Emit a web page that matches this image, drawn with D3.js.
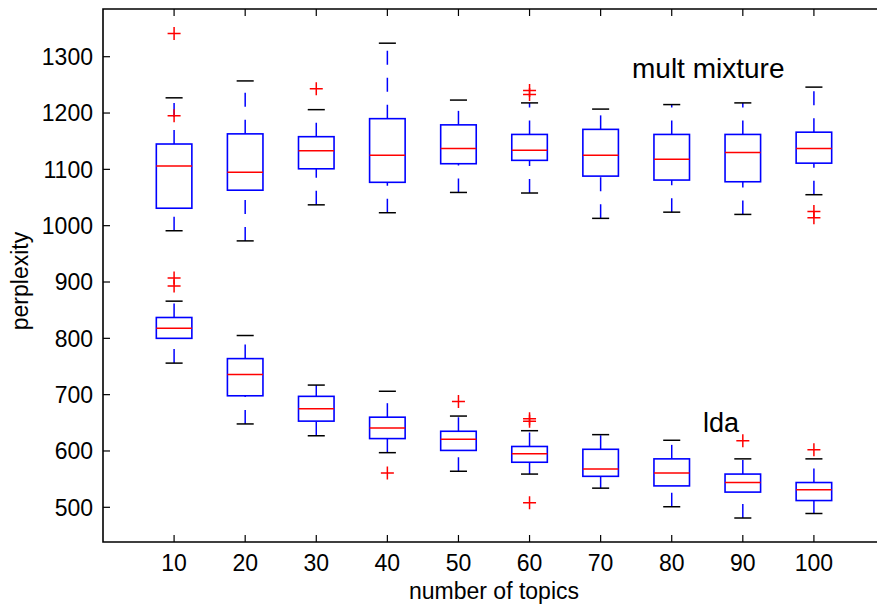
<!DOCTYPE html>
<html lang="en">
<head>
    <meta charset="UTF-8">
    <title>perplexity vs number of topics</title>
    <script src="https://d3js.org/d3.v7.min.js"></script>
    <style>
        body {
            margin: 0;
            background: #fff;
        }
        svg {
            display: block;
            font-family: 'Liberation Sans', Arial, Helvetica, sans-serif;
        }
        .axis-line {
            stroke: #000;
            stroke-width: 1.6px;
            fill: none;
        }
        .tick-mark {
            stroke: #000;
            stroke-width: 1.2px;
        }
        .tick-label {
            font-size: 23px;
            fill: #000;
        }
        .whisker {
            stroke: #0000ff;
            stroke-width: 1.5px;
            stroke-dasharray: 14, 13;
        }
        .cap {
            stroke: #000;
            stroke-width: 1.5px;
        }
        .box {
            fill: none;
            stroke: #0000ff;
            stroke-width: 1.6px;
        }
        .median {
            stroke: #ff0000;
            stroke-width: 1.5px;
        }
        .outlier {
            stroke: #ff0000;
            stroke-width: 1.5px;
        }
    </style>
</head>
<body>
    <svg width="877" height="607"></svg>

    <script>
        // x categories
        const topics = [10, 20, 30, 40, 50, 60, 70, 80, 90, 100];
        const yTicks = [500, 600, 700, 800, 900, 1000, 1100, 1200, 1300];

        // mult mixture boxes
        const multLow    = [991, 973, 1037, 1023, 1059, 1058, 1013, 1024, 1020, 1055];
        const multQ1     = [1031, 1063, 1101, 1077, 1110, 1116, 1088, 1081, 1078, 1111];
        const multMedian = [1106, 1095, 1133, 1125, 1137, 1134, 1125, 1118, 1130, 1137];
        const multQ3     = [1145, 1163, 1158, 1190, 1179, 1162, 1171, 1162, 1162, 1166];
        const multHigh   = [1227, 1257, 1206, 1324, 1223, 1218, 1207, 1215, 1218, 1246];
        const multOut    = [[1341, 1195], [], [1243], [], [], [1240, 1233], [], [], [], [1025, 1014]];

        // lda boxes
        const ldaLow    = [756, 648, 627, 597, 564, 559, 534, 501, 481, 489];
        const ldaQ1     = [800, 698, 653, 622, 601, 580, 555, 538, 527, 512];
        const ldaMedian = [818, 736, 675, 641, 621, 595, 568, 561, 544, 531];
        const ldaQ3     = [837, 764, 697, 660, 635, 608, 603, 586, 559, 544];
        const ldaHigh   = [866, 805, 717, 706, 662, 636, 629, 619, 586, 586];
        const ldaOut    = [[907, 893], [], [], [561], [688], [657, 653, 508], [], [], [618], [602]];

        const svg = d3.select("svg");

        // plot area (right edge of the axes sits just past the window)
        const plotLeft = 103, plotRight = 885, plotTop = 9, plotBottom = 542;

        const x = d3.scaleLinear().domain([0, 11]).range([plotLeft, plotRight]);
        const y = d3.scaleLinear().domain([438.4, 1384.7]).range([plotBottom, plotTop]);

        const boxHalf = 0.25, capHalf = 0.12;

        function drawSeries(low, q1, med, q3, high, outs) {
            const rows = topics.map((t, i) => ({
                pos: i + 1, low: low[i], q1: q1[i], med: med[i],
                q3: q3[i], high: high[i], outs: outs[i]
            }));
            const g = svg.append("g");

            // whiskers: lower one starts its dash at the cap, upper one at the box
            g.selectAll(".wlow").data(rows).enter().append("line")
                .attr("class", "whisker")
                .attr("x1", d => x(d.pos)).attr("x2", d => x(d.pos))
                .attr("y1", d => y(d.low)).attr("y2", d => y(d.q1));
            g.selectAll(".whigh").data(rows).enter().append("line")
                .attr("class", "whisker")
                .attr("x1", d => x(d.pos)).attr("x2", d => x(d.pos))
                .attr("y1", d => y(d.q3)).attr("y2", d => y(d.high));

            // caps
            ["low", "high"].forEach(k => {
                g.selectAll(".cap-" + k).data(rows).enter().append("line")
                    .attr("class", "cap")
                    .attr("x1", d => x(d.pos - capHalf)).attr("x2", d => x(d.pos + capHalf))
                    .attr("y1", d => y(d[k])).attr("y2", d => y(d[k]));
            });

            // boxes
            g.selectAll(".box").data(rows).enter().append("rect")
                .attr("class", "box")
                .attr("x", d => x(d.pos - boxHalf))
                .attr("width", d => x(d.pos + boxHalf) - x(d.pos - boxHalf))
                .attr("y", d => y(d.q3))
                .attr("height", d => y(d.q1) - y(d.q3));

            // medians
            g.selectAll(".median").data(rows).enter().append("line")
                .attr("class", "median")
                .attr("x1", d => x(d.pos - boxHalf)).attr("x2", d => x(d.pos + boxHalf))
                .attr("y1", d => y(d.med)).attr("y2", d => y(d.med));

            // outliers as red plus signs
            const pts = rows.flatMap(d => d.outs.map(v => ({ pos: d.pos, v: v })));
            g.selectAll(".outlier").data(pts).enter().append("path")
                .attr("class", "outlier")
                .attr("d", d => {
                    const cx = x(d.pos), cy = y(d.v), s = 6.5;
                    return `M${cx - s},${cy}H${cx + s}M${cx},${cy - s}V${cy + s}`;
                });
        }

        drawSeries(multLow, multQ1, multMedian, multQ3, multHigh, multOut);
        drawSeries(ldaLow, ldaQ1, ldaMedian, ldaQ3, ldaHigh, ldaOut);

        // axes frame (matlab style, ticks inward)
        const axes = svg.append("g");
        axes.append("path").attr("class", "axis-line")
            .attr("d", `M${plotRight},${plotTop}H${plotLeft}V${plotBottom}H${plotRight}`);

        const tickLen = 7;
        axes.selectAll(".ytick").data(yTicks).enter().append("line")
            .attr("class", "tick-mark")
            .attr("x1", plotLeft).attr("x2", plotLeft + tickLen)
            .attr("y1", d => y(d)).attr("y2", d => y(d));
        axes.selectAll(".ylab").data(yTicks).enter().append("text")
            .attr("class", "tick-label")
            .attr("x", plotLeft - 10).attr("y", d => y(d))
            .attr("dy", "0.36em")
            .attr("text-anchor", "end")
            .text(d => d);

        axes.selectAll(".xtick-b").data(topics).enter().append("line")
            .attr("class", "tick-mark")
            .attr("x1", (d, i) => x(i + 1)).attr("x2", (d, i) => x(i + 1))
            .attr("y1", plotBottom).attr("y2", plotBottom - tickLen);
        axes.selectAll(".xtick-t").data(topics).enter().append("line")
            .attr("class", "tick-mark")
            .attr("x1", (d, i) => x(i + 1)).attr("x2", (d, i) => x(i + 1))
            .attr("y1", plotTop).attr("y2", plotTop + tickLen);
        axes.selectAll(".xlab").data(topics).enter().append("text")
            .attr("class", "tick-label")
            .attr("x", (d, i) => x(i + 1)).attr("y", 571)
            .attr("text-anchor", "middle")
            .text(d => d);

        // axis titles
        svg.append("text")
            .attr("x", 494).attr("y", 599)
            .attr("text-anchor", "middle")
            .style("font-size", "23px")
            .text("number of topics");
        svg.append("text")
            .attr("transform", "translate(28,281) rotate(-90)")
            .attr("text-anchor", "middle")
            .style("font-size", "23px")
            .text("perplexity");

        // series annotations
        svg.append("text")
            .attr("x", 632).attr("y", 78)
            .style("font-size", "28px")
            .text("mult mixture");
        svg.append("text")
            .attr("x", 703).attr("y", 432)
            .style("font-size", "27px")
            .text("lda");
    </script>
</body>
</html>
